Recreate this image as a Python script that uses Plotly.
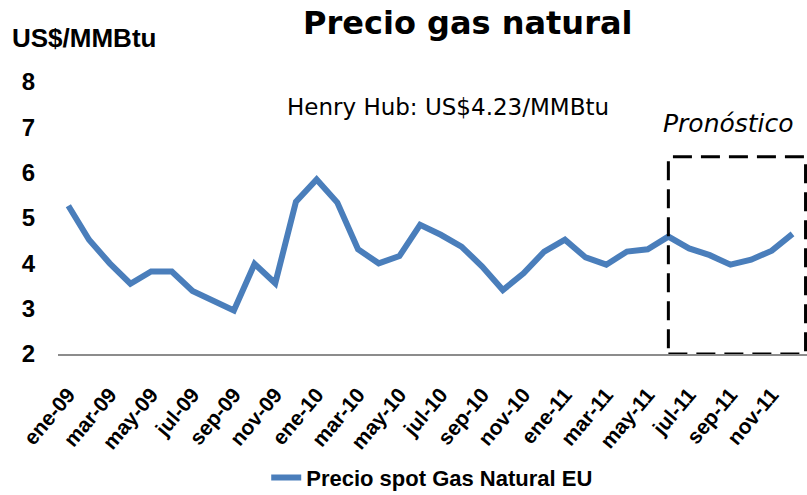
import plotly.graph_objects as go

months = ["ene-09","feb-09","mar-09","abr-09","may-09","jun-09","jul-09","ago-09","sep-09","oct-09","nov-09","dic-09",
          "ene-10","feb-10","mar-10","abr-10","may-10","jun-10","jul-10","ago-10","sep-10","oct-10","nov-10","dic-10",
          "ene-11","feb-11","mar-11","abr-11","may-11","jun-11","jul-11","ago-11","sep-11","oct-11","nov-11","dic-11"]
prices = [5.27, 4.52, 4.00, 3.55, 3.82, 3.82, 3.39, 3.18, 2.96, 3.99, 3.56, 5.36,
          5.85, 5.34, 4.31, 4.00, 4.16, 4.85, 4.63, 4.37, 3.93, 3.41, 3.78, 4.26,
          4.52, 4.13, 3.97, 4.26, 4.31, 4.59, 4.33, 4.18, 3.97, 4.08, 4.28, 4.65]
tick_idx = list(range(0, 36, 2))
tick_labels = [months[i] for i in tick_idx]
forecast_start = 29
forecast_end = 35.63
forecast_top = 6.35

x = list(range(len(months)))

fig = go.Figure()
fig.add_trace(go.Scatter(x=x, y=prices, mode="lines", name="Precio spot Gas Natural EU",
                         line=dict(color="#4A7EBB", width=6)))

fig.add_shape(type="rect", xref="x", yref="y", x0=forecast_start, x1=forecast_end, y0=2, y1=forecast_top,
              line=dict(color="black", width=3, dash="19px,9px"))

fig.update_layout(
    width=807, height=495,
    margin=dict(l=58, r=0, t=82, b=141, autoexpand=False),
    paper_bgcolor="white", plot_bgcolor="white",
    showlegend=True,
    legend=dict(orientation="h", x=0.278, y=-0.455, xanchor="left", yanchor="middle",
                font=dict(family="Liberation Sans, Arial", size=22, color="black", weight="bold")),
    xaxis=dict(range=[-0.5, 35.7], tickmode="array", tickvals=tick_idx, ticktext=tick_labels,
               tickangle=-50, showgrid=False, zeroline=False, showline=True, linecolor="#8c8c8c", linewidth=2,
               ticks="", ticklabelstandoff=18, automargin=False,
               tickfont=dict(family="Liberation Sans, Arial", size=21, color="black", weight="bold")),
    yaxis=dict(range=[2, 8], tickvals=[2,3,4,5,6,7,8], showgrid=False, zeroline=False, showline=False,
               ticks="", ticklabelstandoff=22, automargin=False,
               tickfont=dict(family="Liberation Sans, Arial", size=24, color="black", weight="bold")),
)

fig.add_annotation(text="<b>Precio gas natural</b>", xref="paper", yref="paper", x=0.547, y=1.217,
                   xanchor="center", yanchor="middle", showarrow=False,
                   font=dict(family="DejaVu Sans", size=32, color="black"))
fig.add_annotation(text="<b>US$/MMBtu</b>", xref="paper", yref="paper", x=-0.064, y=1.16,
                   xanchor="left", yanchor="middle", showarrow=False,
                   font=dict(family="Liberation Sans, Arial", size=26, color="black"))
fig.add_annotation(text="Henry Hub: US$4.23/MMBtu", xref="paper", yref="paper", x=0.521, y=0.908,
                   xanchor="center", yanchor="middle", showarrow=False,
                   font=dict(family="DejaVu Sans", size=23, color="black"))
fig.add_annotation(text="<i>Pronóstico</i>", xref="x", yref="paper", x=31.9, y=0.849,
                   xanchor="center", yanchor="middle", showarrow=False,
                   font=dict(family="DejaVu Sans", size=25, color="black"))

fig.write_html("out.html", config={"displayModeBar": False},
               post_script="document.body.style.margin='0px';")
